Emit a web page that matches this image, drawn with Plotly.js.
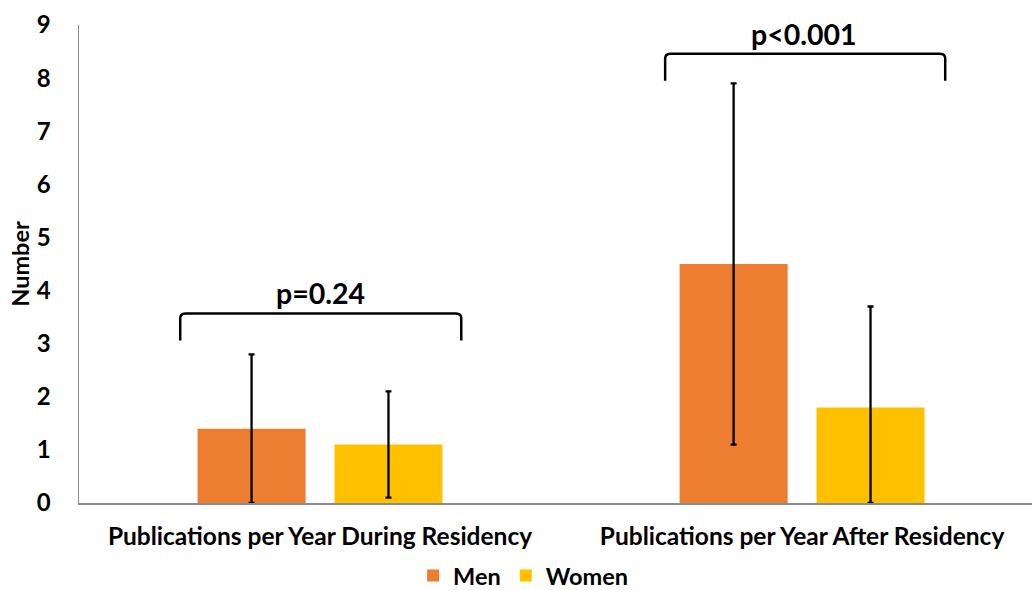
<!DOCTYPE html>
<html>
<head>
<meta charset="utf-8">
<script src="https://cdn.plot.ly/plotly-3.0.1.min.js"></script>
<style>html,body{margin:0;padding:0;background:#fff;}#chart{width:1032px;height:590px;}</style>
</head>
<body>
<div id="chart"></div>
<script>
var categories = ["Publications per Year During Residency", "Publications per Year After Residency"];
var menValues = [1.4, 4.5];
var menErrPlus = [1.4, 3.4];
var menErrMinus = [1.4, 3.4];
var womenValues = [1.1, 1.8];
var womenErrPlus = [1.0, 1.9];
var womenErrMinus = [1.0, 1.8];
var pLabels = ["p=0.24", "p<0.001"];
var yTicks = [0,1,2,3,4,5,6,7,8,9];

var FONT = "Lato, 'Open Sans', sans-serif";

function bracket(x0, x1, yTop, yBot) {
  var rx = 0.011, ry = 0.09;
  return "M " + x0 + "," + yBot + " L " + x0 + "," + (yTop - ry) +
    " Q " + x0 + "," + yTop + " " + (x0 + rx) + "," + yTop +
    " L " + (x1 - rx) + "," + yTop +
    " Q " + x1 + "," + yTop + " " + x1 + "," + (yTop - ry) +
    " L " + x1 + "," + yBot;
}

var traces = [
  {
    type: "bar", name: "Men", x: categories, y: menValues,
    marker: {color: "#ED7D31"},
    error_y: {type: "data", symmetric: false, array: menErrPlus, arrayminus: menErrMinus,
              color: "#000000", thickness: 2.3, width: 3}
  },
  {
    type: "bar", name: "Women", x: categories, y: womenValues,
    marker: {color: "#FFC000"},
    error_y: {type: "data", symmetric: false, array: womenErrPlus, arrayminus: womenErrMinus,
              color: "#000000", thickness: 2.3, width: 3}
  }
];

var layout = {
  width: 1032, height: 590,
  margin: {l: 79, r: 0, t: 25, b: 87, autoexpand: false},
  paper_bgcolor: "#ffffff", plot_bgcolor: "#ffffff",
  barmode: "group", bargap: 0.432, bargroupgap: 0.211,
  font: {family: FONT, color: "#000000", size: 22, weight: "bold"},
  showlegend: true,
  legend: {orientation: "h", x: 0.466, xanchor: "center", yref: "container", y: 0.024, yanchor: "middle",
           font: {family: FONT, size: 23.5, color: "#000000", weight: "bold"}, traceorder: "normal",
           itemwidth: 30, bgcolor: "rgba(0,0,0,0)"},
  xaxis: {
    type: "category", range: [-0.5, 1.477], showgrid: false, zeroline: false,
    showline: true, linecolor: "#8c8c8c", linewidth: 1.5, ticks: "", automargin: false,
    tickfont: {family: FONT, size: 24.5, color: "#000000", weight: "bold"},
    ticklabelstandoff: 11, fixedrange: true
  },
  yaxis: {
    range: [0, 9], tickvals: yTicks, showgrid: false, zeroline: false, automargin: false,
    showline: true, linecolor: "#8c8c8c", linewidth: 1.5, ticks: "",
    tickfont: {family: FONT, size: 24, color: "#000000", weight: "bold"},
    ticklabelstandoff: 22,
    title: {text: "Number", font: {family: FONT, size: 23.5, color: "#000000", weight: "bold"}, standoff: 0},
    fixedrange: true
  },
  shapes: [
    {type: "path", xref: "x", yref: "y", path: bracket(-0.29, 0.293, 3.57, 3.06),
     line: {color: "#000000", width: 2.5}},
    {type: "path", xref: "x", yref: "y", path: bracket(0.716, 1.297, 8.46, 7.95),
     line: {color: "#000000", width: 2.5}}
  ],
  annotations: [
    {x: 0, y: 3.95, xref: "x", yref: "y", text: pLabels[0], showarrow: false,
     font: {family: FONT, size: 28.5, color: "#000000", weight: "bold"}},
    {x: 1.005, y: 8.83, xref: "x", yref: "y", text: pLabels[1], showarrow: false,
     font: {family: FONT, size: 28.5, color: "#000000", weight: "bold"}}
  ]
};

Plotly.newPlot("chart", traces, layout, {displayModeBar: false, staticPlot: true});
</script>
</body>
</html>
